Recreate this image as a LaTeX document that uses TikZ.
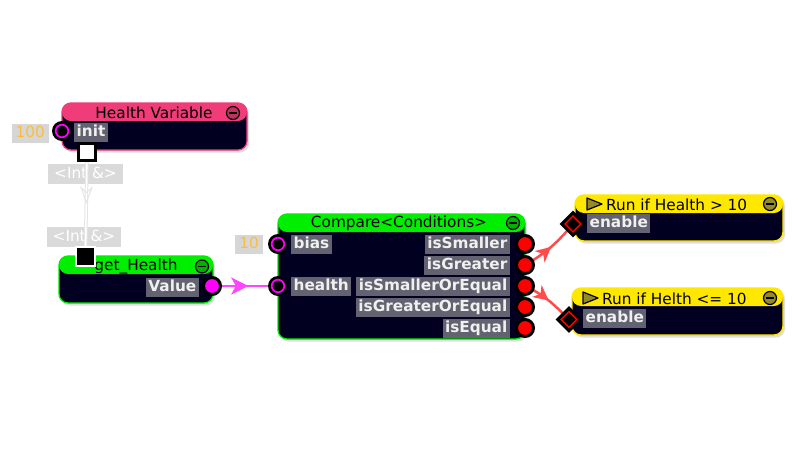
\documentclass[tikz,border=0pt]{standalone}
\usepackage{fontspec}
\setmainfont{DejaVu Sans}
\usetikzlibrary{arrows.meta,decorations.markings,shadows}

\definecolor{bodyc}{RGB}{2,0,32}
\definecolor{hdrpink}{RGB}{240,60,120}
\definecolor{hdrgreen}{RGB}{0,238,0}
\definecolor{hdryellow}{RGB}{255,232,0}
\definecolor{lblbg}{RGB}{98,98,112}
\definecolor{lbltxt}{RGB}{240,240,240}
\definecolor{constbg}{RGB}{214,214,214}
\definecolor{consttxt}{RGB}{250,190,60}
\definecolor{typebg}{RGB}{218,218,218}
\definecolor{portmag}{RGB}{255,0,255}
\definecolor{linkmag}{RGB}{255,70,255}
\definecolor{portred}{RGB}{255,0,0}
\definecolor{linkred}{RGB}{255,75,75}
\definecolor{iconolive}{RGB}{150,138,40}

\pgfdeclarelayer{paper}
\pgfdeclarelayer{blocks}
\pgfdeclarelayer{links}
\pgfsetlayers{paper,blocks,links,main}

\tikzset{
  x=1pt, y=-1pt,
  block/.style={draw=#1, line width=1.3pt, fill=bodyc, rounded corners=9pt,
    inner sep=0pt,
    drop shadow={shadow xshift=2pt, shadow yshift=-2.5pt, opacity=.25},
    path picture={\fill[#1] (path picture bounding box.north west)
      rectangle ([yshift=-18pt]path picture bounding box.north east);}},
  title/.style={inner sep=0pt, font=\fontsize{15.3}{18}\selectfont, text=black},
  lbl/.style={fill=lblbg, text=lbltxt, inner xsep=2.5pt, inner ysep=0pt,
    text height=12pt, text depth=4pt, minimum height=19pt,
    font=\fontsize{15.3}{18}\selectfont\bfseries},
  constbox/.style={fill=constbg, text=consttxt, inner xsep=4pt, inner ysep=0pt,
    text height=12pt, text depth=4pt, minimum height=19pt,
    font=\fontsize{15.3}{18}\selectfont},
  typebox/.style={fill=typebg, text=white, inner xsep=6pt, inner ysep=0pt,
    text height=12pt, text depth=4pt, minimum height=20pt,
    font=\fontsize{15.3}{18}\selectfont},
  minusbtn/.style={circle, draw=black, line width=1.2pt, fill=#1,
    minimum size=13pt, inner sep=0pt,
    path picture={\draw[black, line width=1.4pt]
      ([xshift=-4pt]path picture bounding box.center) --
      ([xshift=4pt]path picture bounding box.center);}},
  inport/.style={circle, fill=black, minimum size=20pt, inner sep=0pt,
    path picture={\draw[portmag, line width=1.7pt]
      (path picture bounding box.center) circle (6.3pt);}},
  outport/.style={circle, fill=#1, draw=black, line width=3pt,
    minimum size=17pt, inner sep=0pt},
  enableport/.style={rectangle, rotate=45, fill=black, minimum size=19pt,
    inner sep=0pt,
    path picture={\draw[portred, line width=1.4pt]
      ([xshift=-5.5pt,yshift=-5.5pt]path picture bounding box.center) rectangle
      ([xshift=5.5pt,yshift=5.5pt]path picture bounding box.center);}},
  refout/.style={rectangle, fill=white, draw=black, line width=3pt,
    minimum size=17pt, inner sep=0pt},
  refin/.style={rectangle, fill=black, draw=white, line width=2pt,
    minimum size=19pt, inner sep=0pt},
  playicon/.style={fill=iconolive, draw=black, line width=1.2pt, line join=round},
  midarrow/.style 2 args={postaction=decorate, decoration={markings,
    mark=at position #1 with {\arrow{Stealth[length=#2, width=#2, inset=4.5pt]}}}},
  typelink/.style={draw=black!10, line width=3.5pt,
    postaction={draw=white, line width=1.5pt},
    postaction={decorate, decoration={markings,
      mark=at position 0.5 with {\arrow[black!10, fill=white, line width=1pt]
        {Stealth[length=18pt, width=13pt, inset=6pt, open]}}}}},
  maglink/.style={draw=linkmag, line width=2.5pt, midarrow={0.55}{17pt}},
  redlink/.style={draw=linkred, line width=2.5pt, midarrow={0.5}{15pt}},
}

\begin{document}
\begin{tikzpicture}
\begin{pgfonlayer}{paper}
  \fill[white] (0,0) rectangle (800,450);
\end{pgfonlayer}
\useasboundingbox (0,0) rectangle (800,450);

\begin{pgfonlayer}{blocks}
  % node bodies with coloured headers
  \node[block=hdrpink, minimum width=185pt, minimum height=47pt] (hv) at (154.5,126.5) {};
  \node[block=hdrgreen, minimum width=154pt, minimum height=47pt] (gh) at (136,279.5) {};
  \node[block=hdrgreen, minimum width=247pt, minimum height=125pt] (cmp) at (401.5,276.5) {};
  \node[block=hdryellow, minimum width=208pt, minimum height=46pt] (run1) at (679,218) {};
  \node[block=hdryellow, minimum width=211pt, minimum height=47pt] (run2) at (677.5,311.5) {};
  % type tags of the reference link
  \node[typebox] (hvtype) at (85.5,174) {<Int \&>};
  \node[typebox] (ghtype) at (84,237) {<Int \&>};
\end{pgfonlayer}

% titles and header buttons
\node[title] (hvtitle) at (154,113) {Health Variable};
\node[minusbtn=hdrpink!80!black] (hvmin) at (233,113) {};
\node[title] (ghtitle) at (136,266.5) {get\_Health};
\node[minusbtn=hdrgreen!75!black] (ghmin) at (202,266.5) {};
\node[title] (cmptitle) at (399,223) {Compare<Conditions>};
\node[minusbtn=hdrgreen!75!black] (cmpmin) at (513,223) {};
\filldraw[playicon] (587,198) -- (602,204) -- (587,210) -- cycle;
\node[title, anchor=west] (run1title) at (606,204.5) {Run if Health > 10};
\node[minusbtn=iconolive] (run1min) at (770,204) {};
\filldraw[playicon] (583,292) -- (598,298) -- (583,304) -- cycle;
\node[title, anchor=west] (run2title) at (602,298.5) {Run if Helth <= 10};
\node[minusbtn=iconolive] (run2min) at (770,298) {};

% Health Variable
\node[lbl, anchor=west] (initlbl) at (74,132.5) {init};
\node[constbox, anchor=east] (initval) at (49,133) {100};
\node[inport] (init) at (62,131) {};
\node[refout] (hvref) at (87,152) {};

% get_Health
\node[refin] (ghref) at (85.5,256) {};
\node[lbl, anchor=east] (valuelbl) at (199,287) {Value};
\node[outport=portmag] (value) at (212,286) {};

% Compare<Conditions>
\node[constbox, anchor=east] (biasval) at (263,244) {10};
\node[inport] (bias) at (278,244) {};
\node[lbl, anchor=west] (biaslbl) at (291,244) {bias};
\node[inport] (health) at (278,286) {};
\node[lbl, anchor=west] (healthlbl) at (291,286) {health};
\node[lbl, anchor=east] (sm) at (510,244) {isSmaller};
\node[lbl, anchor=east] (gr) at (510,265) {isGreater};
\node[lbl, anchor=east] (smeq) at (510,286) {isSmallerOrEqual};
\node[lbl, anchor=east] (greq) at (510,307) {isGreaterOrEqual};
\node[lbl, anchor=east] (eq) at (510,328) {isEqual};
\node[outport=portred] (smout) at (525,244) {};
\node[outport=portred] (grout) at (525,265) {};
\node[outport=portred] (smeqout) at (525,286) {};
\node[outport=portred] (greqout) at (525,307) {};
\node[outport=portred] (eqout) at (525,328) {};

% Run nodes
\node[lbl, anchor=west] (en1lbl) at (587,223.5) {enable};
\node[enableport] (en1) at (573,224) {};
\node[lbl, anchor=west] (en2lbl) at (583,318) {enable};
\node[enableport] (en2) at (569,319.5) {};

% connections
\begin{pgfonlayer}{links}
  \draw[typelink] (hvref.center) -- (ghref.center);
  \draw[maglink] (value.center) -- (health.center);
  \draw[redlink] (grout.center) to[out=30, in=230] (en1.center);
  \draw[redlink] (smeqout.center) to[out=-25, in=135] (en2.center);
\end{pgfonlayer}
\end{tikzpicture}
\end{document}
